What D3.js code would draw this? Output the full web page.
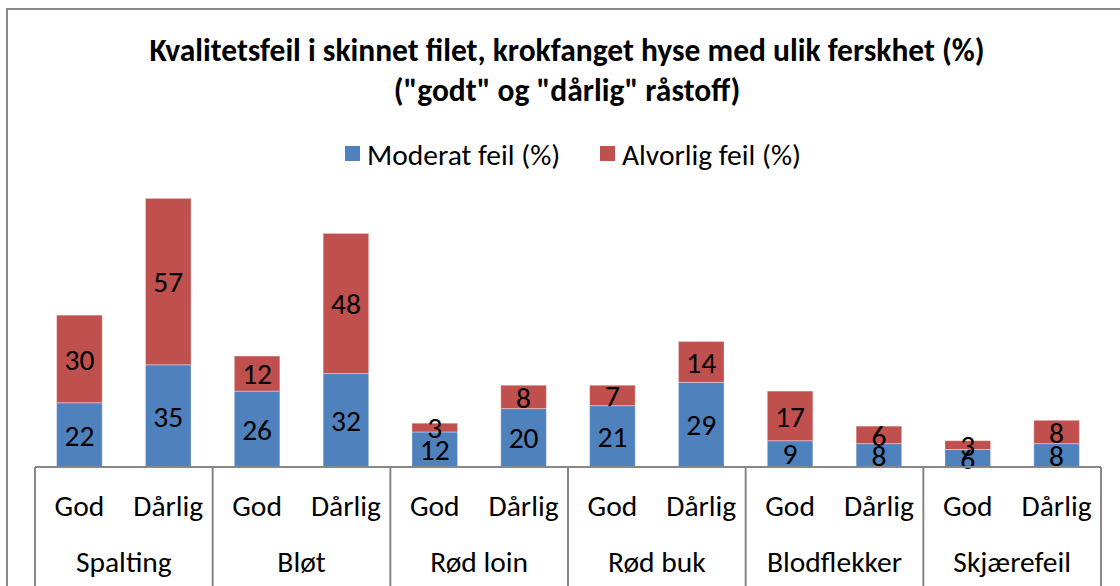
<!DOCTYPE html>
<html>
<head>
<meta charset="utf-8">
<script src="https://cdn.jsdelivr.net/npm/d3@7"></script>
<style>
  body { margin: 0; background: #fff; }
  svg { display: block; font-family: Carlito, Calibri, Lato, sans-serif; }
</style>
</head>
<body>
<svg id="chart" width="1120" height="586"></svg>
<script>
const groups = ["Spalting", "Bløt", "Rød loin", "Rød buk", "Blodflekker", "Skjærefeil"];
const subs = ["God", "Dårlig"];
const moderat = [22, 35, 26, 32, 12, 20, 21, 29, 9, 8, 6, 8];
const alvorlig = [30, 57, 12, 48, 3, 8, 7, 14, 17, 6, 3, 8];
const seriesNames = ["Moderat feil (%)", "Alvorlig feil (%)"];
const colors = ["#4F81BD", "#C0504D"];

const svg = d3.select("#chart");
const width = 1120, height = 586;
const margin = { top: 175, right: 19, bottom: 119, left: 35 };
const fontSize = 29.5;

// outer chart border
svg.append("rect")
  .attr("x", 7).attr("y", 9)
  .attr("width", width + 20).attr("height", height + 20)
  .attr("fill", "none")
  .attr("stroke", "#898989")
  .attr("stroke-width", 2);

// title
const title = svg.append("text")
  .attr("text-anchor", "middle")
  .attr("font-weight", "bold")
  .attr("font-size", 31.5)
  .attr("fill", "#000");
title.append("tspan").attr("x", 567).attr("y", 61)
  .text("Kvalitetsfeil i skinnet filet, krokfanget hyse med ulik ferskhet (%)");
title.append("tspan").attr("x", 567).attr("y", 101)
  .text("(\"godt\" og \"dårlig\" råstoff)");

// rows: one per bar
const rows = [];
groups.forEach((g, gi) => {
  subs.forEach((s, si) => {
    const i = gi * subs.length + si;
    rows.push({ key: i, group: g, sub: s, moderat: moderat[i], alvorlig: alvorlig[i] });
  });
});

const x = d3.scaleBand()
  .domain(rows.map(d => d.key))
  .range([margin.left, width - margin.right])
  .paddingInner(0.487)
  .paddingOuter(0.2435);

const y = d3.scaleLinear()
  .domain([0, 100])
  .range([height - margin.bottom, margin.top]);

const stacked = d3.stack().keys(["moderat", "alvorlig"])(rows);

const layers = svg.append("g").selectAll("g")
  .data(stacked)
  .enter()
  .append("g")
  .attr("fill", (d, i) => colors[i]);

layers.selectAll("rect")
  .data(d => d)
  .enter()
  .append("rect")
  .attr("x", d => x(d.data.key))
  .attr("y", d => y(d[1]))
  .attr("width", x.bandwidth())
  .attr("height", d => y(d[0]) - y(d[1]))
  .attr("stroke", "rgba(255,255,255,0.35)")
  .attr("stroke-width", 1);

// value labels
layers.selectAll("text")
  .data(d => d.map(v => ({ v, val: v[1] - v[0] })))
  .enter()
  .append("text")
  .attr("x", d => x(d.v.data.key) + x.bandwidth() / 2)
  .attr("y", d => (y(d.v[0]) + y(d.v[1])) / 2)
  .attr("dy", "0.36em")
  .attr("text-anchor", "middle")
  .attr("fill", "#000")
  .attr("font-size", fontSize)
  .text(d => d.val);

// category axis (two levels)
const axisY = y(0);
const axisColor = "#878787";
const groupW = (width - margin.right - margin.left) / groups.length;
const ax = svg.append("g").attr("stroke", axisColor).attr("stroke-width", 2);
ax.append("line")
  .attr("x1", margin.left).attr("x2", width - margin.right)
  .attr("y1", axisY).attr("y2", axisY);
d3.range(groups.length + 1).forEach(i => {
  ax.append("line")
    .attr("x1", margin.left + i * groupW).attr("x2", margin.left + i * groupW)
    .attr("y1", axisY).attr("y2", height);
});

svg.append("g").selectAll("text")
  .data(rows)
  .enter()
  .append("text")
  .attr("x", d => x(d.key) + x.bandwidth() / 2)
  .attr("y", 505)
  .attr("dy", "0.36em")
  .attr("text-anchor", "middle")
  .attr("font-size", fontSize)
  .attr("fill", "#000")
  .text(d => d.sub);

svg.append("g").selectAll("text")
  .data(groups)
  .enter()
  .append("text")
  .attr("x", (d, i) => margin.left + (i + 0.5) * groupW)
  .attr("y", 561)
  .attr("dy", "0.36em")
  .attr("text-anchor", "middle")
  .attr("font-size", fontSize)
  .attr("fill", "#000")
  .text(d => d);

// legend
const legendX = [345, 600];
const legend = svg.append("g").selectAll("g")
  .data(seriesNames)
  .enter()
  .append("g")
  .attr("transform", (d, i) => `translate(${legendX[i]},146)`);
legend.append("rect")
  .attr("width", 15).attr("height", 15)
  .attr("fill", (d, i) => colors[i]);
legend.append("text")
  .attr("x", 22).attr("y", 8)
  .attr("dy", "0.36em")
  .attr("font-size", fontSize)
  .attr("fill", "#000")
  .text(d => d);
</script>
</body>
</html>
